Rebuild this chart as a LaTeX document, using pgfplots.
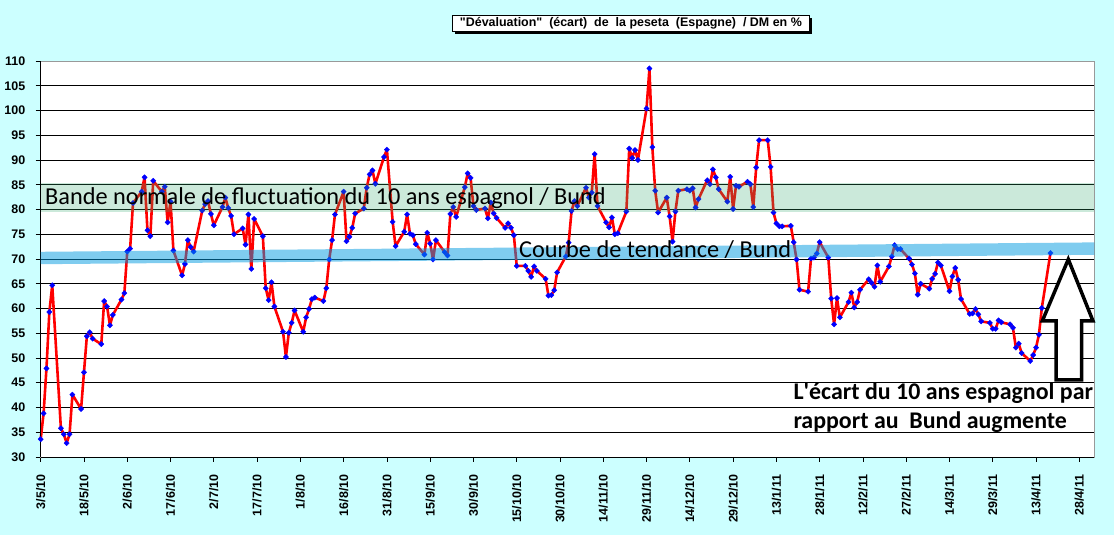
\documentclass[border=0pt]{standalone}
\usepackage{fontspec}
\setmainfont{Liberation Sans}
\newfontfamily\titlefont{Liberation Sans}
\newfontfamily\carlito{Carlito}
\usepackage{pgfplots}
\pgfplotsset{compat=1.18}
\definecolor{bgcyan}{RGB}{204,255,255}
\definecolor{bandgreen}{RGB}{50,170,110}
\definecolor{bandblue}{RGB}{0,155,225}
\begin{document}
\begin{tikzpicture}[x=1bp,y=1bp]
\path[use as bounding box, fill=bgcyan] (0,0) rectangle (1114,535);
\begin{axis}[
  at={(40.7bp,78bp)}, anchor=south west,
  scale only axis, width=1053.6bp, height=396bp,
  xmin=0, xmax=365.2, ymin=30, ymax=110,
  axis background/.style={fill=white},
  axis line style={draw=gray!80, line width=0.8bp},
  ytick={30,35,...,110},
  xtick={0,15,...,360},
  xticklabels={3/5/10,18/5/10,2/6/10,17/6/10,2/7/10,17/7/10,1/8/10,16/8/10,31/8/10,15/9/10,30/9/10,15/10/10,30/10/10,14/11/10,29/11/10,14/12/10,29/12/10,13/1/11,28/1/11,12/2/11,27/2/11,14/3/11,29/3/11,13/4/11,28/4/11},
  xtick pos=bottom, ytick pos=left,
  tick align=outside, major tick length=5bp,
  tick style={black, line width=0.8bp},
  ymajorgrids, major grid style={black, line width=0.8bp},
  /pgf/number format/assume math mode=true,
  ticklabel style={font=\bfseries\fontsize{12.5}{14}\selectfont},
  xticklabel style={rotate=90, anchor=east, xshift=-9bp},
  yticklabel style={anchor=east, xshift=-7bp},
  clip=false,
]
\addplot[red, line width=2.6bp, line join=round, mark=square*, mark size=1.9bp,
  mark options={rotate=45, fill=blue, draw=blue, line width=0.3bp}] coordinates {
(0,33.6)(1,38.8)(2,47.9)(3,59.3)(4,64.7)
(7,35.8)(8,34.6)(9,32.8)(10,34.6)(11,42.6)
(14,39.7)(15,47.1)(16,54.4)(17,55.2)(18,53.9)
(21,52.8)(22,61.5)(23,60.4)(24,56.6)(25,58.7)
(28,61.8)(29,63.1)(30,71.5)(31,72.1)(32,81.3)
(35,83.6)(36,86.5)(37,75.8)(38,74.6)(39,85.8)
(42,83.6)(43,84.6)(44,77.4)(45,81.6)(46,71.7)
(49,66.7)(50,69.0)(51,73.8)(52,72.4)(53,71.5)
(56,79.8)(57,81.1)(58,81.7)(59,79.1)(60,76.8)
(63,80.5)(64,82.4)(65,80.3)(66,78.7)(67,75.0)
(70,76.2)(71,72.9)(72,79.0)(73,68.0)(74,78.1)
(77,74.6)(78,64.1)(79,61.7)(80,65.3)(81,60.4)
(84,55.3)(85,50.2)(86,55.1)(87,57.1)(88,59.6)
(91,55.3)(92,58.2)(93,59.9)(94,61.9)(95,62.2)
(98,61.5)(99,64.1)(100,69.9)(101,73.8)(102,79.0)
(105,83.6)(106,73.6)(107,74.5)(108,76.3)(109,79.2)
(112,80.2)(113,84.4)(114,87.1)(115,87.9)(116,85.2)
(119,90.6)(120,92.1)(122,77.5)(123,72.6)
(126,75.5)(127,79.0)(128,75.1)(129,74.8)(130,73.0)
(133,70.9)(134,75.3)(135,73.1)(136,69.9)(137,73.8)
(140,71.4)(141,70.7)(142,79.1)(143,80.5)(144,78.5)
(147,84.5)(148,87.3)(149,86.4)(150,80.7)(151,79.9)
(154,80.2)(155,78.2)(156,81.4)(157,79.2)(158,78.3)
(161,76.3)(162,77.2)(163,76.3)(164,74.8)(165,68.6)
(168,68.6)(169,67.6)(170,66.4)(171,68.5)(172,67.6)
(175,66.0)(176,62.6)(177,62.7)(178,63.7)(179,67.3)
(182,70.5)(183,73.3)(184,79.7)(185,81.7)(186,80.7)
(189,84.4)(190,82.4)(191,83.4)(192,91.2)(193,80.7)
(196,77.4)(197,76.4)(198,78.4)(199,75.0)(200,75.2)
(203,79.6)(204,92.3)(205,90.4)(206,92.0)(207,90.0)
(210,100.4)(211,108.5)(212,92.6)(213,83.8)(214,79.4)
(217,82.4)(218,78.6)(219,73.5)(220,79.6)(221,83.8)
(224,84.1)(225,83.8)(226,84.3)(227,80.4)(228,82.1)
(231,85.9)(232,85.1)(233,88.1)(234,86.5)(235,84.1)
(238,81.6)(239,86.6)(240,80.1)(241,84.8)(242,84.6)
(245,85.6)(246,85.1)(247,80.5)(248,88.5)(249,94.0)
(252,94.0)(253,88.6)(254,79.4)(255,77.2)(256,76.6)(257,76.6)
(260,76.7)(261,73.4)(262,69.9)(263,63.8)
(266,63.4)(267,70.1)(268,70.3)(269,71.1)(270,73.4)
(273,70.3)(274,62.0)(275,56.8)(276,62.1)(277,58.2)
(280,61.3)(281,63.2)(282,60.2)(283,61.3)(284,63.8)
(287,65.9)(288,65.2)(289,64.4)(290,68.7)(291,65.4)
(294,68.5)(295,70.5)(296,72.8)(297,72.0)(298,72.0)
(301,70.1)(302,68.9)(303,67.1)(304,62.8)(305,65.0)
(308,64.0)(309,66.0)(310,67.0)(311,69.3)(312,68.7)
(315,63.5)(316,66.5)(317,68.2)(318,65.8)(319,61.9)
(322,58.9)(323,59.0)(324,59.9)(325,58.8)(326,57.4)
(329,57.1)(330,55.9)(331,55.9)(332,57.6)(333,57.2)
(336,56.8)(337,56.1)(338,52.1)(339,52.9)(340,51.0)
(343,49.4)(344,50.6)(345,52.1)(346,54.7)(347,60.1)
(350,71.2)
};
\draw[black, line width=0.9bp] (rel axis cs:0,0) -- (rel axis cs:0,1);
\draw[black, line width=0.9bp] (rel axis cs:0,0) -- (rel axis cs:1,0);
\end{axis}
% bands (semi-transparent overlays)
\fill[bandgreen, opacity=0.25] (40.7,323) rectangle (1094.3,351.7);
\draw[bandblue, opacity=0.5, line width=12.4bp] (40.7,277) -- (1094.3,286.4);
% band texts
\node[anchor=base west, inner sep=0, font=\carlito\fontsize{24.4}{28}\selectfont] at (45,330) {Bande normale de fluctuation du 10 ans espagnol / Bund};
\node[anchor=base west, inner sep=0, font=\carlito\fontsize{24.4}{28}\selectfont] at (519,277.3) {Courbe de tendance / Bund};
% arrow
\draw[black, fill=white, line width=3.5bp, miter limit=10] (1068.3,275.7) -- (1093,214) -- (1081.7,214) -- (1081.7,155) -- (1056,155) -- (1056,214) -- (1042.3,214) -- cycle;
% bottom-right text
\node[anchor=base west, inner sep=0, font=\carlito\bfseries\fontsize{24}{28}\selectfont] at (793.3,135.7) {L\textquotesingle écart du 10 ans espagnol par};
\node[anchor=base west, inner sep=0, font=\carlito\bfseries\fontsize{24}{28}\selectfont] at (793.3,106.7) {rapport au\ \ Bund augmente};
% title box
\fill[black] (455.4,501.3) rectangle (811.7,517.3);
\node[draw=black, fill=white, line width=0.8bp, minimum width=356.3bp, minimum height=16bp, inner sep=0, font=\titlefont\bfseries\fontsize{12.5}{14}\selectfont] at (630.9,512) {"Dévaluation"\ \ (écart)\ \ de\ \ la peseta\ \ (Espagne)\ \ / DM en \%};
\end{tikzpicture}
\end{document}
